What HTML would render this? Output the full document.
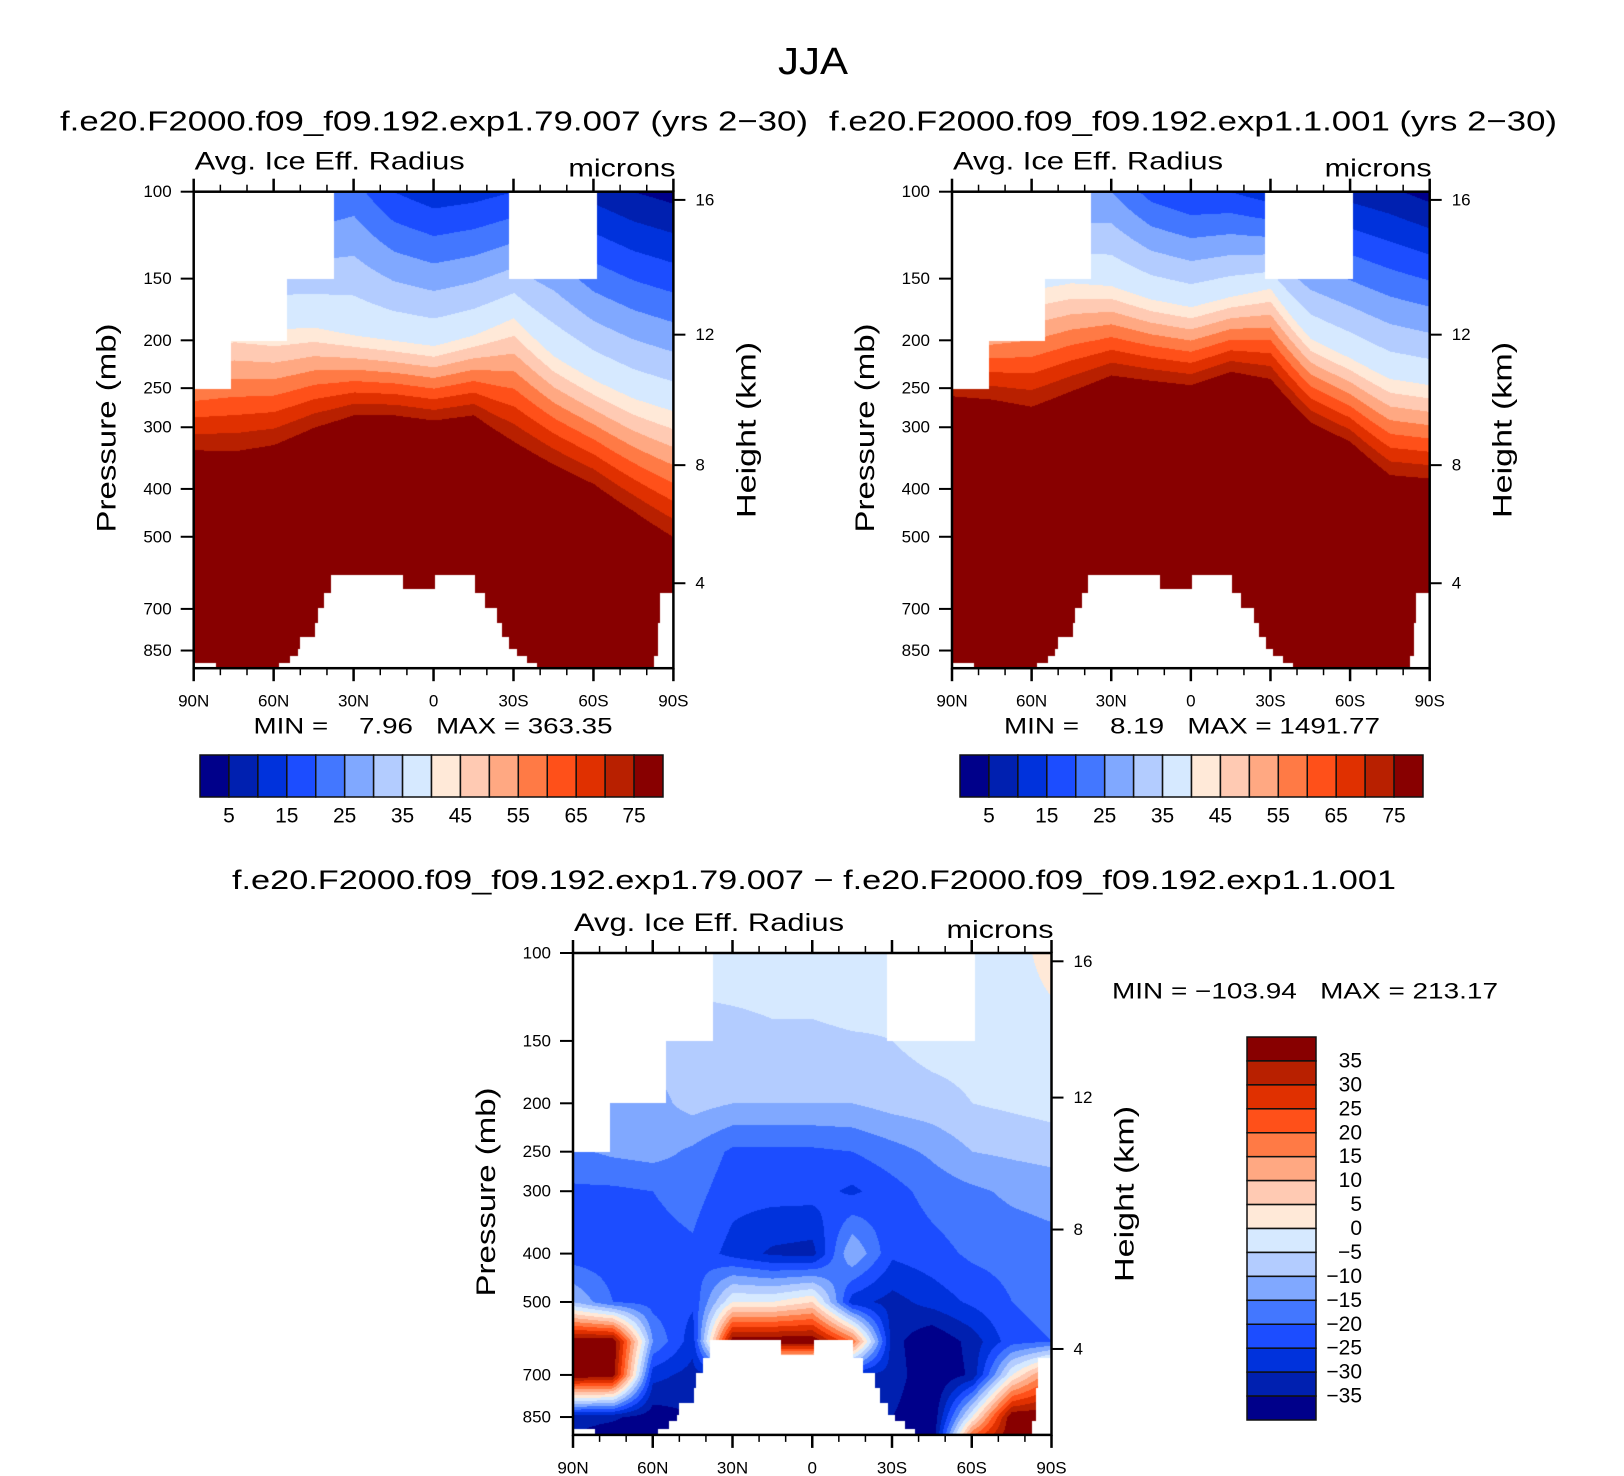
<!DOCTYPE html>
<html><head><meta charset="utf-8">
<style>
html,body{margin:0;padding:0;background:#fff;}
#root{position:relative;width:1624px;height:1476px;overflow:hidden;font-family:"Liberation Sans",sans-serif;}
canvas{position:absolute;}
svg{position:absolute;left:0;top:0;}
text{white-space:pre;}
</style></head>
<body>
<div id="root">
<canvas id="c1"></canvas>
<canvas id="c2"></canvas>
<canvas id="c3"></canvas>
<svg id="s" width="1624" height="1476"></svg>
</div>
<script>
// ---------- data ----------
const colLats = [90,75,60,45,30,15,0,-15,-30,-45,-60,-75,-90];
const p1P40 = [195,185,190,188,195,200,205,195,180,215,240,262,278];
const p1P75 = [333,335,325,300,283,283,290,283,320,356,390,443,500];
const p1V100 = [20,20,20,20,22,15,12,13,15,15,8,5,3];
const p2P40 = [170,168,158,153,155,165,171,163,157,198,217,239,246];
const p2P75 = [259,263,272,253,235,241,246,231,239,292,320,374,380];
const p2V100 = [20,20,22,25,25,18,15,15,12,10,8,6,3];
const diffLevels = [100,150,200,250,300,400,500,600,700,850,925];
const diffRow100 = [-3,-3,-3,-3,-2,-2,-2,-1,-3,-3,-2,-2,2];
const diffRow150 = [-8,-8,-8,-7,-7,-6,-6,-5.5,-5,-3,-3,-2,-2];
const diffRow200 = [-10,-10,-12,-8,-10,-10,-10,-10,-8,-7,-5,-4,-3];
const diffRow250 = [-16,-14,-13,-16,-21,-21,-21,-20,-17,-14,-10,-9,-8];
const diffRow300 = [-21,-21,-20,-18,-23,-23,-23,-26,-22,-18,-16,-14,-13];
const diffRow400 = [-23,-23,-22,-21,-27,-31,-32,-10,-24,-22,-19,-18,-17];
const diffRow500 = [-10,-20,-22,-24,0,0,5,-28,-32,-28,-24,-20,-18];
const diffRow600 = [40,40,-15,-28,40,40,40,20,-33,-40,-33,-22,-20];
const diffRow700 = [40,38,-28,-32,-30,-30,-30,-30,-32,-40,-34,0,20];
const diffRow850 = [-33,-34,-38,-35,-35,-35,-35,-35,-35,-40,0,40,40];
const diffRow925 = [-35,-38,-40,-35,-35,-35,-35,-35,-38,-40,20,40,40];
const diffRows = [diffRow100,diffRow150,diffRow200,diffRow250,diffRow300,diffRow400,diffRow500,diffRow600,diffRow700,diffRow850,diffRow925];
const topMaskNorth = [[37.5,100,150],[55,150,200],[76,200,250]];
const topMaskSouth = [-28,-61,100,150];
const terrLatFrom = [90,81.6,58,54,51.1,50.2,44.6,43.6,41.2,38.6,11.7,-0.4,-15.3,-19,-23.6,-25.5,-28.2,-31,-34.7,-38.5,-82.5,-84,-84.8];
const terrPsfc =    [896,923,896,867,842,795,744,694,647,596,637,596,647,694,744,795,842,867,896,923,867,744,647];
const presTicks = [100,150,200,250,300,400,500,700,850];
const latTicks = [90,60,30,0,-30,-60,-90];
const latLabels = ['90N','60N','30N','0','30S','60S','90S'];
const kmTicks = [16,12,8,4];
const kmTickP = [103.9,194.8,358,621];
const seqLevelLabels = ['5','15','25','35','45','55','65','75'];
const diffLevelLabels = ['35','30','25','20','15','10','5','0','\u22125','\u221210','\u221215','\u221220','\u221225','\u221230','\u221235'];
const colors = ['#00008a','#0020b0','#0032dc','#1c4dff','#4377ff','#80a8ff','#b3ccff','#d6e9ff','#ffe9d8','#ffcab3','#ffa882','#ff7a45','#ff5019','#e03000','#b82000','#880000'];

const PBOT = 923, LNSPAN = Math.log(PBOT/100);
const panels = [
 {id:'c1',x0:193.7,x1:673.4,y0:191.7,y1:668.2},
 {id:'c2',x0:952,x1:1429.7,y0:191.7,y1:668.2},
 {id:'c3',x0:573,x1:1051.5,y0:953,y1:1434.9}
];
function hex(c){return [parseInt(c.substr(1,2),16),parseInt(c.substr(3,2),16),parseInt(c.substr(5,2),16)];}
const rgb = colors.map(hex);
function colInterp(arr,lat){
  const f=(90-lat)/15; let i=Math.min(Math.floor(f),11); const t=f-i; return arr[i]*(1-t)+arr[i+1]*t;
}
function masked(lat,p){
  for(const m of topMaskNorth){ if(lat>=m[0] && p>=m[1] && p<m[2]) return true; }
  if(lat<=topMaskSouth[0] && lat>=topMaskSouth[1] && p<topMaskSouth[3]) return true;
  for(let k=0;k<terrLatFrom.length;k++){
    const hi=terrLatFrom[k], lo=(k+1<terrLatFrom.length)?terrLatFrom[k+1]:-90;
    if(lat<=hi && lat>lo-0.001){ return p>terrPsfc[k]; }
  }
  return false;
}
function seqValue(P40,P75,V100,lat,p){
  const a=colInterp(P40,lat), b=colInterp(P75,lat), v=colInterp(V100,lat);
  if(p>=b) return 80;
  if(p>=a) return 40+35*Math.log(p/a)/Math.log(b/a);
  return v+(40-v)*Math.log(p/100)/Math.log(a/100);
}
function diffValue(lat,p){
  const f=(90-lat)/15; let i=Math.min(Math.floor(f),11); const t=f-i;
  const lp=Math.log(p); let r=0;
  while(r<diffLevels.length-2 && lp>Math.log(diffLevels[r+1])) r++;
  let u=(lp-Math.log(diffLevels[r]))/(Math.log(diffLevels[r+1])-Math.log(diffLevels[r]));
  u=Math.max(0,Math.min(1,u));
  const A=diffRows[r][i],B=diffRows[r][i+1],C=diffRows[r+1][i],D=diffRows[r+1][i+1];
  return (A*(1-t)+B*t)*(1-u)+(C*(1-t)+D*t)*u;
}
function drawPanel(pi,fn,lo,step){
  const P=panels[pi]; const cv=document.getElementById(P.id);
  const W=Math.round(P.x1-P.x0), H=Math.round(P.y1-P.y0);
  cv.width=W; cv.height=H; cv.style.left=P.x0+'px'; cv.style.top=P.y0+'px';
  const ctx=cv.getContext('2d'); const img=ctx.createImageData(W,H);
  for(let j=0;j<H;j++){
    const p=100*Math.exp((j+0.5)/H*LNSPAN);
    for(let i=0;i<W;i++){
      const lat=90-180*(i+0.5)/W; const o=(j*W+i)*4;
      let c=[255,255,255];
      if(!masked(lat,p)){
        const v=fn(lat,p); let k=Math.floor((v-lo)/step)+1; k=Math.max(0,Math.min(15,k)); c=rgb[k];
      }
      img.data[o]=c[0];img.data[o+1]=c[1];img.data[o+2]=c[2];img.data[o+3]=255;
    }
  }
  ctx.putImageData(img,0,0);
}
drawPanel(0,(l,p)=>seqValue(p1P40,p1P75,p1V100,l,p),5,5);
drawPanel(1,(l,p)=>seqValue(p2P40,p2P75,p2V100,l,p),5,5);
drawPanel(2,diffValue,-35,5);

// ---------- SVG overlay ----------
const S=document.getElementById('s'); const NS='http://www.w3.org/2000/svg';
function el(tag,attrs,parent){const e=document.createElementNS(NS,tag);for(const k in attrs)e.setAttribute(k,attrs[k]);(parent||S).appendChild(e);return e;}
function txt(str,x,y,size,anchor,name,extra){
  const e=el('text',Object.assign({x:x,y:y,'font-size':size,'text-anchor':anchor||'start','dominant-baseline':'central',fill:'#000','font-family':'Liberation Sans, sans-serif'},extra||{}));
  
  
  e.textContent=str; return e;
}
function yOf(P,p){return P.y0+(P.y1-P.y0)*Math.log(p/100)/LNSPAN;}
function xOf(P,lat){return P.x0+(P.x1-P.x0)*(90-lat)/180;}
txt('JJA',813,62,38,'middle','figure-title',{textLength:70,lengthAdjust:'spacingAndGlyphs'});
txt('f.e20.F2000.f09_f09.192.exp1.79.007 (yrs 2\u221230)',434,121,28,'middle','left-panel-title',{textLength:748,lengthAdjust:'spacingAndGlyphs'});
txt('f.e20.F2000.f09_f09.192.exp1.1.001 (yrs 2\u221230)',1193,121,28,'middle','right-panel-title',{textLength:728,lengthAdjust:'spacingAndGlyphs'});
txt('f.e20.F2000.f09_f09.192.exp1.79.007 \u2212 f.e20.F2000.f09_f09.192.exp1.1.001',814,880,27,'middle','difference-panel-title',{textLength:1164,lengthAdjust:'spacingAndGlyphs'});

const minmax=[['MIN =    7.96   MAX = 363.35',433,726,359],['MIN =    8.19   MAX = 1491.77',1192,726,376]];
panels.forEach((P,pi)=>{
  const g=el('g',{});
  
  
  el('rect',{x:P.x0,y:P.y0,width:P.x1-P.x0,height:P.y1-P.y0,fill:'none',stroke:'#000','stroke-width':2.5},g);
  for(let lat=90;lat>=-90;lat-=10){
    const x=xOf(P,lat); const major=(lat%30===0); const L=major?13:7;
    el('line',{x1:x,x2:x,y1:P.y1,y2:P.y1+L,stroke:'#000','stroke-width':major?2.5:1.5},g);
    el('line',{x1:x,x2:x,y1:P.y0,y2:P.y0-L,stroke:'#000','stroke-width':major?2.5:1.5},g);
  }
  latTicks.forEach((lat,i)=>{txt(latLabels[i],xOf(P,lat),P.y1+33,17,'middle','x-tick-label',{});});
  presTicks.forEach(p=>{
    const y=yOf(P,p);
    el('line',{x1:P.x0-13,x2:P.x0,y1:y,y2:y,stroke:'#000','stroke-width':2},g);
    txt(String(p),P.x0-22,y,17,'end','y-tick-label',{});
  });
  kmTicks.forEach((k,i)=>{
    const y=yOf(P,kmTickP[i]);
    el('line',{x1:P.x1,x2:P.x1+12,y1:y,y2:y,stroke:'#000','stroke-width':2},g);
    txt(String(k),P.x1+22,y,17,'start','height-tick-label',{});
  });
  txt('Avg. Ice Eff. Radius',P.x0+1,P.y0-30,25,'start','variable-label',{textLength:270,lengthAdjust:'spacingAndGlyphs'});
  txt('microns',P.x1+2,P.y0-23,25,'end','units-label',{textLength:107,lengthAdjust:'spacingAndGlyphs'});
  const cy=(P.y0+P.y1)/2;
  txt('Pressure (mb)',0,0,27,'middle','y-axis-title',{transform:'translate('+(P.x0-87)+','+(cy-2)+') rotate(-90)',textLength:209,lengthAdjust:'spacingAndGlyphs'});
  txt('Height (km)',0,0,27,'middle','right-axis-title',{transform:'translate('+(P.x1+73)+','+(cy)+') rotate(-90)',textLength:176,lengthAdjust:'spacingAndGlyphs'});
  if(pi<2){ txt(minmax[pi][0],minmax[pi][1],minmax[pi][2],22,'middle','min-max-label',{textLength:minmax[pi][3],lengthAdjust:'spacingAndGlyphs'}); }
});
txt('MIN = \u2212103.94   MAX = 213.17',1305,991,22,'middle','diff-min-max-label',{textLength:386,lengthAdjust:'spacingAndGlyphs'});

[[200,663],[960,1423]].forEach((cb,ci)=>{
  const g=el('g',{});
  
  
  const w=(cb[1]-cb[0])/16;
  colors.forEach((c,k)=>{el('rect',{x:cb[0]+k*w,y:755,width:w,height:42,fill:c,stroke:'#111','stroke-width':1.5},g);});
  seqLevelLabels.forEach((s,i)=>{txt(s,cb[0]+(2*i+1)*w,816,21,'middle','colorbar-label',{});});
});
{
  const g=el('g',{});
  
  
  const x0=1247,y0=1037,h=(1420-1037)/16;
  for(let k=0;k<16;k++){ el('rect',{x:x0,y:y0+k*h,width:69,height:h,fill:colors[15-k],stroke:'#111','stroke-width':1.5},g); }
  diffLevelLabels.forEach((s,i)=>{txt(s,1362,y0+(i+1)*h,21,'end','colorbar-label',{});});
}
</script>
</body></html>
